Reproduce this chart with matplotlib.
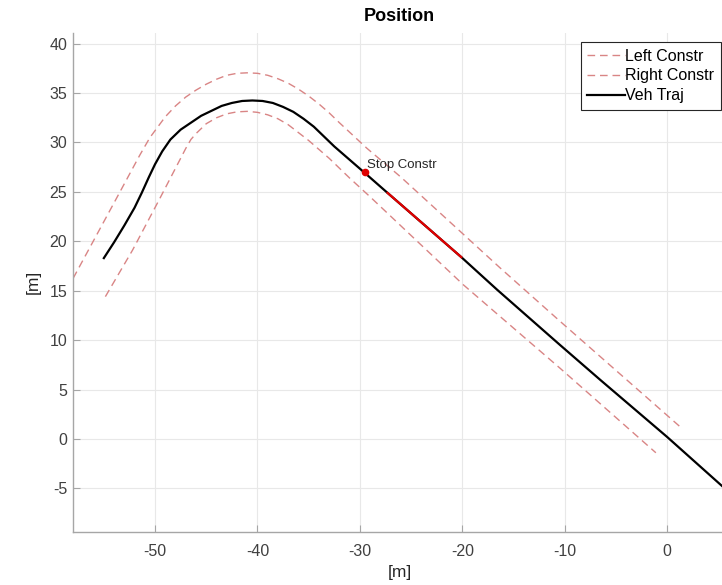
import matplotlib
matplotlib.use("Agg")
import matplotlib.pyplot as plt
from matplotlib.ticker import MultipleLocator

plt.rcParams['font.family'] = ['Liberation Sans', 'DejaVu Sans']
plt.rcParams['axes.unicode_minus'] = False

# vehicle trajectory
traj_x = [-55.0, -54.0, -53.0, -52.0, -51.3, -50.6, -50.0, -49.3, -48.5, -47.5, -46.5,
          -45.5, -44.5, -43.5, -42.5, -41.5, -40.5, -39.5, -38.5, -37.5, -36.5, -35.5,
          -34.5, -33.5, -32.5, -29.5, -27.3, -20.1, -16.6, -10.45, -6.5, 0.0, 5.4]
traj_y = [18.3, 19.9, 21.6, 23.4, 24.9, 26.5, 27.8, 29.1, 30.3, 31.3, 32.0,
          32.7, 33.2, 33.7, 34.0, 34.2, 34.25, 34.2, 34.0, 33.6, 33.1, 32.4,
          31.6, 30.6, 29.6, 26.9, 24.9, 18.4, 15.1, 9.5, 5.95, 0.2, -4.8]

# part of the trajectory drawn in red
red_x = [-27.3, -20.1]
red_y = [24.9, 18.4]

# left (outer) constraint
left_x = [-58.0, -54.0, -51.5, -50.5, -50.0, -49.0, -48.0, -47.0, -46.0, -45.0, -44.0,
          -43.0, -42.0, -41.0, -40.0, -39.0, -38.0, -37.0, -36.0, -35.0, -34.0, -33.0,
          -32.0, -29.3, -26.0, -16.3, -10.45, 1.3]
left_y = [16.25, 23.9, 28.7, 30.5, 31.2, 32.6, 33.7, 34.6, 35.3, 35.9, 36.4,
          36.8, 37.0, 37.05, 37.0, 36.8, 36.45, 36.0, 35.4, 34.7, 33.9, 33.0,
          32.0, 29.4, 26.5, 17.3, 11.9, 1.2]

# right (inner) constraint
right_x = [-54.85, -52.2, -49.6, -47.0, -46.5, -46.0, -45.0, -44.0, -43.0, -42.0, -41.0,
           -40.0, -39.0, -38.0, -37.0, -36.0, -35.0, -34.0, -33.0, -31.0, -29.0, -19.9,
           -10.45, -1.1]
right_y = [14.4, 19.1, 24.2, 29.4, 30.3, 30.9, 31.9, 32.5, 32.9, 33.1, 33.15,
           33.05, 32.8, 32.4, 31.8, 31.0, 30.2, 29.3, 28.4, 26.4, 24.5, 15.6,
           7.15, -1.4]

stop_x = [-29.5]
stop_y = [27.0]

constr_color = '#d98585'
dash = (0, (5.5, 3.5))

fig = plt.figure(figsize=(7.22, 5.85), dpi=100)
ax = fig.add_axes([0.1007, 0.0911, 0.905, 0.853])

ax.plot(left_x, left_y, color=constr_color, linestyle=dash, linewidth=1.0, label='Left Constr')
ax.plot(right_x, right_y, color=constr_color, linestyle=dash, linewidth=1.0, label='Right Constr')
ax.plot(traj_x, traj_y, color='black', linewidth=1.6, label='Veh Traj')
ax.plot(red_x, red_y, color='#e00000', linewidth=1.6)
ax.plot(stop_x, stop_y, 'o', color='#e00000', markersize=4.5)
ax.text(stop_x[0] + 0.2, stop_y[0] + 0.7, 'Stop Constr', fontsize=9.5, color='#262626',
        ha='left', va='center')

ax.set_xlim(-58.04, 5.76)
ax.set_ylim(-9.39, 41.11)
ax.xaxis.set_major_locator(MultipleLocator(10))
ax.yaxis.set_major_locator(MultipleLocator(5))

ax.grid(True, color='#e8e8e8', linewidth=0.8)
ax.set_axisbelow(True)
for side in ['top', 'right']:
    ax.spines[side].set_visible(False)
for side in ['left', 'bottom']:
    ax.spines[side].set_color('#a6a6a6')
    ax.spines[side].set_linewidth(1.0)
ax.tick_params(direction='in', length=5, width=0.8, color='#a6a6a6',
               labelcolor='#404040', labelsize=11.5)
ax.tick_params(axis='x', pad=9)
ax.tick_params(axis='y', pad=4)

ax.set_xlabel('[m]', fontsize=12.5, color='#262626')
ax.set_ylabel('[m]', fontsize=12.5, color='#262626')
ax.xaxis.set_label_coords(0.5, -0.081)
ax.yaxis.set_label_coords(-0.061, 0.5)
ax.xaxis.label.set_va('center')
ax.yaxis.label.set_va('center')
ax.text(0.5, 1.0315, 'Position', transform=ax.transAxes, ha='center', va='center',
        fontsize=13, fontweight='bold', color='black')

leg = fig.legend(loc='upper right', bbox_to_anchor=(720.7 / 722, 1 - 42.3 / 585),
                 borderaxespad=0, fontsize=11.5, fancybox=False, framealpha=1,
                 edgecolor='#262626', handlelength=2.35, handletextpad=0.05,
                 borderpad=0.4, labelspacing=0.3)
leg.get_frame().set_linewidth(0.8)

fig.savefig('out.png', dpi=100)
